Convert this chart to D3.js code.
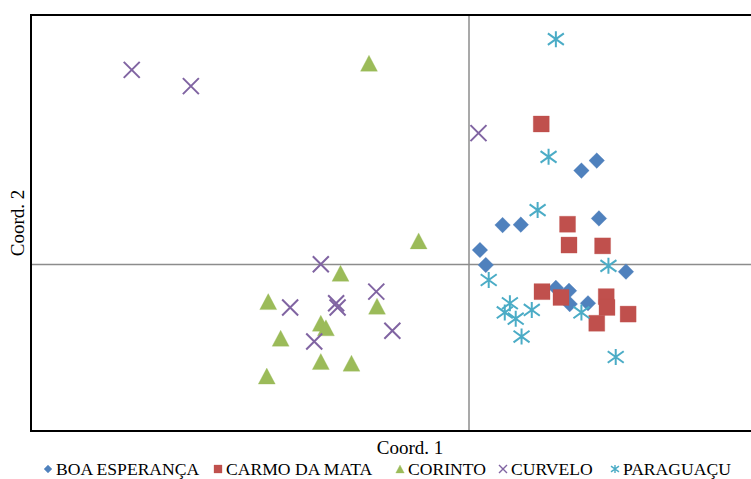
<!DOCTYPE html>
<html>
<head>
<meta charset="utf-8">
<script src="https://cdn.jsdelivr.net/npm/d3@7"></script>
<style>
  body { margin: 0; background: #fff; }
  svg { display: block; }
</style>
</head>
<body>
<svg id="chart" width="751" height="479"></svg>
<script>
(function(){

var seriesNames = ["BOA ESPERANÇA", "CARMO DA MATA", "CORINTO", "CURVELO", "PARAGUAÇU"];

var boaEsperanca = [[0.175,0.250],[0.154,0.226],[0.046,0.095],[0.071,0.096],[0.015,0.035],[0.023,-0.001],
  [0.178,0.111],[0.215,-0.017],[0.119,-0.056],[0.137,-0.063],[0.138,-0.095],[0.163,-0.093]];
var carmoDaMata = [[0.099,0.338],[0.135,0.097],[0.137,0.047],[0.183,0.045],[0.100,-0.065],[0.126,-0.079],
  [0.188,-0.077],[0.189,-0.103],[0.175,-0.141],[0.218,-0.119]];
var corinto = [[-0.137,0.484],[-0.069,0.057],[-0.176,-0.021],[-0.275,-0.089],[-0.126,-0.100],[-0.203,-0.141],
  [-0.196,-0.152],[-0.258,-0.177],[-0.203,-0.233],[-0.161,-0.237],[-0.277,-0.268]];
var curvelo = [[-0.462,0.468],[-0.381,0.429],[0.013,0.316],[-0.203,0.001],[-0.245,-0.103],[-0.182,-0.093],
  [-0.180,-0.103],[-0.127,-0.065],[-0.105,-0.159],[-0.212,-0.185]];
var paraguacu = [[0.119,0.542],[0.109,0.259],[0.094,0.131],[0.027,-0.037],[0.191,-0.003],[0.056,-0.093],
  [0.049,-0.115],[0.064,-0.130],[0.086,-0.109],[0.072,-0.173],[0.154,-0.115],[0.201,-0.222]];

var allSeries = [boaEsperanca, carmoDaMata, corinto, curvelo, paraguacu];
var colors = ["#4F81BD", "#C0504D", "#9BBB59", "#8064A2", "#4BACC6"];
var shapes = ["diamond", "square", "triangle", "cross", "star"];

var svg = d3.select("#chart");
var left = 31, top = 15, right = 761, bottom = 431;

var x = d3.scaleLinear().domain([-0.6, 0.4]).range([left, right]);
var y = d3.scaleLinear().domain([-0.4, 0.6]).range([bottom, top]);

//marker path, s = half size
function marker(shape, s){
	var p = d3.path();
	if (shape == "diamond") {
		p.moveTo(0,-s); p.lineTo(s,0); p.lineTo(0,s); p.lineTo(-s,0); p.closePath();
	} else if (shape == "square") {
		p.rect(-s,-s,2*s,2*s);
	} else if (shape == "triangle") {
		p.moveTo(0,-s); p.lineTo(s*1.06,s); p.lineTo(-s*1.06,s); p.closePath();
	} else if (shape == "cross") {
		p.moveTo(-s,-s); p.lineTo(s,s); p.moveTo(s,-s); p.lineTo(-s,s);
	} else {
		p.moveTo(-s,-s*0.72); p.lineTo(s,s*0.72); p.moveTo(s,-s*0.72); p.lineTo(-s,s*0.72);
		p.moveTo(0,-s); p.lineTo(0,s);
	}
	return p.toString();
}

function styleMarker(sel, i, sw){
	var lineOnly = shapes[i] == "cross" || shapes[i] == "star";
	sel.attr("fill", lineOnly ? "none" : colors[i])
		.attr("stroke", colors[i])
		.attr("stroke-width", lineOnly ? sw : 0.5)
		.attr("stroke-opacity", lineOnly ? 1 : 0.6);
}

//axis lines through zero
svg.append("line")
	.attr("x1", x(0)).attr("x2", x(0))
	.attr("y1", top).attr("y2", bottom)
	.attr("stroke", "#8c8c8c").attr("stroke-width", 1.5);
svg.append("line")
	.attr("x1", left).attr("x2", right)
	.attr("y1", y(0)).attr("y2", y(0))
	.attr("stroke", "#8c8c8c").attr("stroke-width", 1.5);

//points
allSeries.forEach(function(data, i){
	svg.append("g").selectAll("path")
		.data(data)
		.join("path")
		.attr("transform", function(d){ return "translate(" + x(d[0]) + "," + y(d[1]) + ")"; })
		.attr("d", marker(shapes[i], shapes[i] == "diamond" ? 7.8 : 8))
		.call(styleMarker, i, 2);
});

//frame
svg.append("rect")
	.attr("x", left).attr("y", top)
	.attr("width", right - left).attr("height", bottom - top)
	.attr("fill", "none").attr("stroke", "#000").attr("stroke-width", 2);

//axis titles
svg.append("text")
	.attr("x", 410).attr("y", 454)
	.attr("text-anchor", "middle")
	.attr("font-family", "Liberation Serif, Times New Roman, serif")
	.attr("font-size", 19)
	.text("Coord. 1");
svg.append("text")
	.attr("transform", "translate(24,223) rotate(-90)")
	.attr("text-anchor", "middle")
	.attr("font-family", "Liberation Serif, Times New Roman, serif")
	.attr("font-size", 19)
	.text("Coord. 2");

//legend
var legendX = [48, 218, 400, 503, 615];
var legend = svg.append("g");
seriesNames.forEach(function(name, i){
	var g = legend.append("g").attr("transform", "translate(" + legendX[i] + ",469)");
	g.append("path")
		.attr("d", marker(shapes[i], 4))
		.call(styleMarker, i, 1.4);
	g.append("text")
		.attr("x", 8).attr("y", 6)
		.attr("font-family", "Liberation Serif, Times New Roman, serif")
		.attr("font-size", 17.6)
		.text(name);
});

})()
</script>
</body>
</html>
